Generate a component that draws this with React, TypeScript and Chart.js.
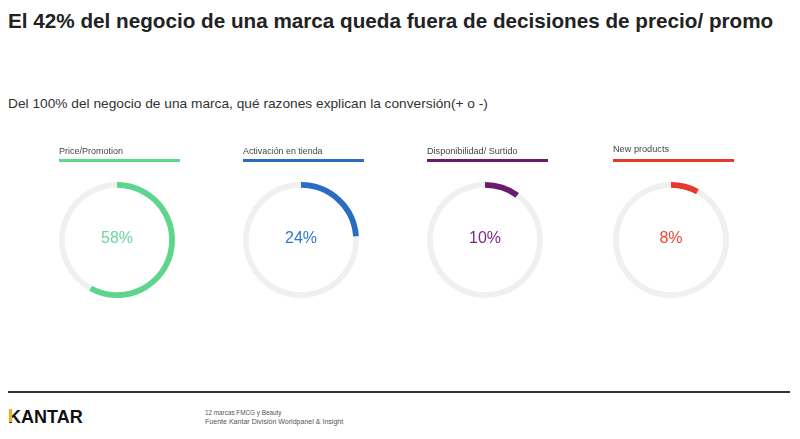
import React, { useEffect, useLayoutEffect, useRef } from "react";
import { Chart, registerables } from "chart.js";

Chart.register(...registerables);

const categories = ["Price/Promotion", "Activación en tienda", "Disponibilidad/ Surtido", "New products"];
const values = [58, 24, 10, 8];
const arcColors = ["#5ed58c", "#2a6cc4", "#6a1b6e", "#e8392b"];
const textColors = ["#6dd49c", "#2f79cf", "#7a2a84", "#ee4536"];
const centers = [117, 301, 485, 671];
const RING_CY = 240;
const RADIUS = 58;
const TRACK = "#f0f0f0";

const FONT = '"Liberation Sans", Arial, sans-serif';

function FitText({ text, x, y, width, style }: { text: string; x: number; y: number; width: number; style: React.CSSProperties }) {
  const ref = useRef<HTMLDivElement>(null);
  useLayoutEffect(() => {
    const el = ref.current;
    if (!el) return;
    el.style.transform = "none";
    const w = el.scrollWidth;
    if (w > 0) el.style.transform = `scaleX(${width / w})`;
  }, [text, width]);
  return (
    <div
      ref={ref}
      style={{
        position: "absolute",
        left: x,
        top: y,
        whiteSpace: "nowrap",
        transformOrigin: "0 0",
        fontFamily: FONT,
        lineHeight: 1,
        ...style,
      }}
    >
      {text}
    </div>
  );
}

function Ring({ idx }: { idx: number }) {
  const ref = useRef<HTMLCanvasElement>(null);
  useEffect(() => {
    if (!ref.current) return;
    const v = values[idx];
    const chart = new Chart(ref.current, {
      type: "doughnut",
      data: {
        labels: [categories[idx], "Resto"],
        datasets: [
          {
            data: [v, 100 - v],
            backgroundColor: [arcColors[idx], TRACK],
            borderWidth: 0,
            hoverOffset: 0,
            offset: 0,
            spacing: 0,
          },
        ],
      },
      options: {
        responsive: false,
        animation: false,
        cutout: "90%",
        layout: { padding: 0 },
        plugins: { legend: { display: false }, tooltip: { enabled: false } },
        events: [],
      },
    });
    return () => chart.destroy();
  }, [idx]);
  const cx = centers[idx];
  return (
    <>
      <canvas
        ref={ref}
        width={RADIUS * 2}
        height={RADIUS * 2}
        style={{ position: "absolute", left: cx - RADIUS, top: RING_CY - RADIUS, width: RADIUS * 2, height: RADIUS * 2 }}
      />
      <div
        style={{
          position: "absolute",
          left: cx - 50,
          top: RING_CY - 12,
          width: 100,
          textAlign: "center",
          fontFamily: FONT,
          fontSize: 16,
          lineHeight: "20px",
          color: textColors[idx],
        }}
      >
        {values[idx]}%
      </div>
      <FitText
        text={categories[idx]}
        x={cx - 58}
        y={idx === 3 ? 145 : 147}
        width={[64, 80, 91, 56][idx]}
        style={{ fontSize: 9, color: "#444" }}
      />
      <div
        style={{
          position: "absolute",
          left: cx - 58,
          top: 159,
          width: 121,
          height: 3,
          background: arcColors[idx],
        }}
      />
    </>
  );
}

export default function App() {
  return (
    <div
      style={{
        position: "fixed",
        left: 0,
        top: 0,
        width: 800,
        height: 439,
        background: "#fff",
        overflow: "hidden",
      }}
    >
      <FitText
        text="El 42% del negocio de una marca queda fuera de decisiones de precio/ promo"
        x={8}
        y={10}
        width={765}
        style={{ fontSize: 21, fontWeight: "bold", color: "#222" }}
      />
      <FitText
        text="Del 100% del negocio de una marca, qué razones explican la conversión(+ o -)"
        x={8}
        y={97}
        width={480}
        style={{ fontSize: 13, color: "#333" }}
      />
      {values.map((_, i) => (
        <Ring key={i} idx={i} />
      ))}
      <div style={{ position: "absolute", left: 8, top: 391, width: 782, height: 2, background: "#333" }} />
      <div style={{ position: "absolute", left: 8, top: 408, fontFamily: FONT, fontWeight: "bold", fontSize: 18, lineHeight: 1, color: "#111", whiteSpace: "nowrap" }}>
        <span style={{ position: "relative" }}>
          K
          <span style={{ position: "absolute", left: 1, top: 2, width: 3, height: 13, background: "#e6b52a" }} />
        </span>
        ANTAR
      </div>
      <FitText text="12 marcas FMCG y Beauty" x={205} y={409} width={76} style={{ fontSize: 7, color: "#555" }} />
      <FitText text="Fuente Kantar División Worldpanel & Insight" x={205} y={418} width={138} style={{ fontSize: 7, color: "#555" }} />
    </div>
  );
}
